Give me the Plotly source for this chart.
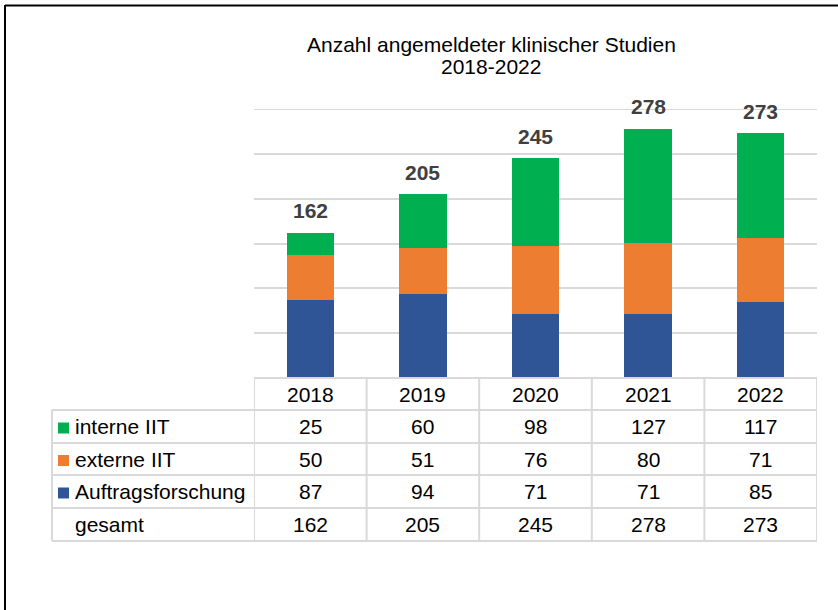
import plotly.graph_objects as go

years = ["2018", "2019", "2020", "2021", "2022"]
interne_iit = [25, 60, 98, 127, 117]
externe_iit = [50, 51, 76, 80, 71]
auftragsforschung = [87, 94, 71, 71, 85]
gesamt = [162, 205, 245, 278, 273]

series = [
    ("interne IIT", interne_iit, "#00B050"),
    ("externe IIT", externe_iit, "#ED7D31"),
    ("Auftragsforschung", auftragsforschung, "#2F5597"),
]

W, H = 838, 610
PL, PR, PT, PB = 254, 817, 109, 378  # plot area in pixels


def px(x):
    return (x - PL) / (PR - PL)


def py(y):
    return (PB - y) / (PB - PT)


FONT = "Liberation Sans, Arial, sans-serif"
GRID = "#D9D9D9"
n = len(years)

fig = go.Figure()
for name, vals, color in reversed(series):
    fig.add_trace(go.Bar(x=years, y=vals, name=name, marker=dict(color=color, line=dict(width=0)),
                         width=0.42, hoverinfo="x+y+name"))

shapes = []
annotations = []

# top gridline (plotly omits the one on the plot edge)
shapes.append(dict(type="line", xref="paper", yref="y", x0=0, x1=1, y0=300, y1=300,
                   line=dict(color=GRID, width=2), layer="below"))

# total labels
for i, tot in enumerate(gesamt):
    annotations.append(dict(x=i, y=tot, xref="x", yref="y", text="<b>%d</b>" % tot,
                            showarrow=False, xanchor="center", yanchor="middle", yshift=22,
                            font=dict(family=FONT, size=21, color="#404040")))

# title (two lines)
annotations.append(dict(x=px(491), y=py(44), xref="paper", yref="paper",
                        text="Anzahl angemeldeter klinischer Studien", showarrow=False,
                        xanchor="center", yanchor="middle",
                        font=dict(family=FONT, size=21, color="#000000")))
annotations.append(dict(x=px(491), y=py(66), xref="paper", yref="paper",
                        text="2018-2022", showarrow=False,
                        xanchor="center", yanchor="middle",
                        font=dict(family=FONT, size=21, color="#000000")))

# data table
row_edges = [378, 410, 443, 475, 508, 541]
left_x = 52
rows = [("", years, None)] + [(nm, [str(v) for v in vals], c) for nm, vals, c in series] + \
       [("gesamt", [str(v) for v in gesamt], None)]

line = dict(color=GRID, width=2)
for i, ry in enumerate(row_edges):
    x0 = 0 if i == 0 else px(left_x)
    shapes.append(dict(type="line", xref="paper", yref="paper", x0=x0, x1=1, y0=py(ry), y1=py(ry), line=line))
for k in range(n + 1):
    shapes.append(dict(type="line", xref="x", yref="paper", x0=k - 0.5, x1=k - 0.5,
                       y0=py(row_edges[0]), y1=py(row_edges[-1]), line=line))
shapes.append(dict(type="line", xref="paper", yref="paper", x0=px(left_x), x1=px(left_x),
                   y0=py(row_edges[1]), y1=py(row_edges[-1]), line=line))

TFS = 21
for r, (label, cells, color) in enumerate(rows):
    yc = (row_edges[r] + row_edges[r + 1]) / 2
    for i, txt in enumerate(cells):
        annotations.append(dict(x=i, y=py(yc), xref="x", yref="paper", text=txt, showarrow=False,
                                xanchor="center", yanchor="middle",
                                font=dict(family=FONT, size=TFS, color="#000000")))
    if label:
        annotations.append(dict(x=px(73), y=py(yc), xref="paper", yref="paper", text=label,
                                showarrow=False, xanchor="left", yanchor="middle",
                                font=dict(family=FONT, size=TFS, color="#000000")))
    if color:
        shapes.append(dict(type="rect", xref="paper", yref="paper", x0=px(58), x1=px(69),
                           y0=py(yc + 7), y1=py(yc - 4), fillcolor=color, line=dict(width=0)))

# outer chart border (left and top visible)
shapes.append(dict(type="line", xref="paper", yref="paper", x0=px(5), x1=px(W + 5), y0=py(5.5), y1=py(5.5),
                   line=dict(color="#000000", width=2)))
shapes.append(dict(type="line", xref="paper", yref="paper", x0=px(5), x1=px(5), y0=py(5), y1=py(H + 5),
                   line=dict(color="#000000", width=2)))

fig.update_layout(
    width=W, height=H,
    margin=dict(l=PL, r=W - PR, t=PT, b=H - PB, pad=0),
    barmode="stack",
    showlegend=False,
    plot_bgcolor="white", paper_bgcolor="white",
    xaxis=dict(type="category", range=[-0.5, n - 0.5], showticklabels=False, showgrid=False,
               zeroline=False, showline=False, ticks=""),
    yaxis=dict(range=[0, 300], dtick=50, showticklabels=False, showgrid=True, gridcolor=GRID,
               gridwidth=2, zeroline=False, showline=False, ticks=""),
    shapes=shapes,
    annotations=annotations,
    font=dict(family=FONT),
)

fig.write_html("out.html", config={"displayModeBar": False},
               post_script="document.body.style.margin='0';document.body.style.overflow='hidden';")
